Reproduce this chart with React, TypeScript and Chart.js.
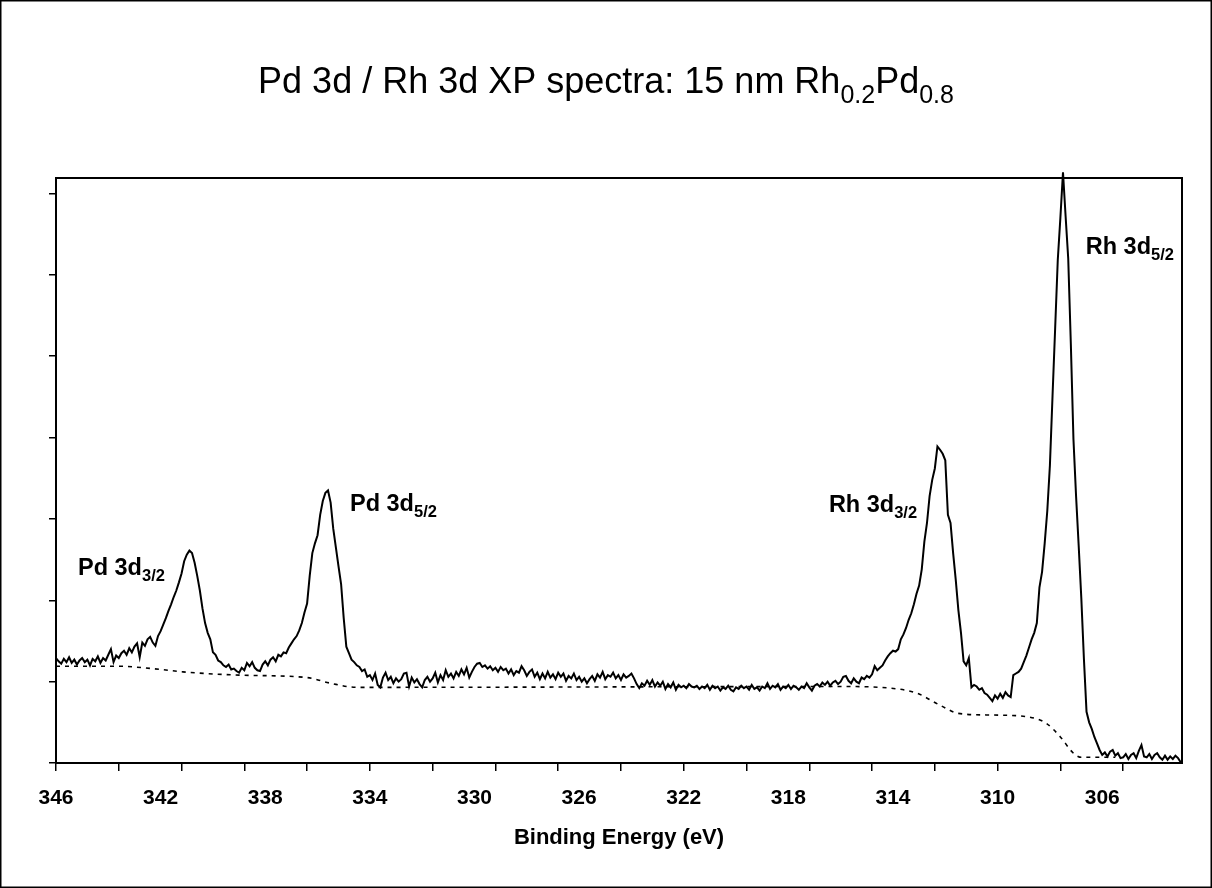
import { useEffect, useRef } from "react";
import { Chart, registerables } from "chart.js";

Chart.register(...registerables);

// Spectrum: binding energy from 346.0 eV down to 303.0 eV, one reading every 0.1 eV
const energyStart = 346.0;
const energyStep = 0.1;
const intensity = [
  1.29, 1.25, 1.22, 1.28, 1.24, 1.30, 1.23, 1.27, 1.21, 1.26,
  1.29, 1.24, 1.27, 1.20, 1.28, 1.25, 1.31, 1.23, 1.29, 1.26,
  1.33, 1.40, 1.24, 1.32, 1.29, 1.35, 1.38, 1.33, 1.41, 1.36,
  1.43, 1.47, 1.30, 1.48, 1.44, 1.52, 1.55, 1.48, 1.44, 1.56,
  1.62, 1.70, 1.78, 1.87, 1.95, 2.04, 2.12, 2.22, 2.33, 2.48,
  2.56, 2.61, 2.58, 2.46, 2.30, 2.12, 1.90, 1.72, 1.60, 1.52,
  1.36, 1.33, 1.26, 1.24, 1.20, 1.18, 1.21, 1.15, 1.16, 1.13,
  1.11, 1.17, 1.14, 1.23, 1.19, 1.24, 1.17, 1.14, 1.13, 1.21,
  1.25, 1.20, 1.27, 1.30, 1.25, 1.33, 1.31, 1.36, 1.35, 1.42,
  1.47, 1.52, 1.56, 1.63, 1.72, 1.85, 1.96, 2.30, 2.58, 2.70,
  2.80, 3.05, 3.22, 3.32, 3.35, 3.20, 2.88, 2.65, 2.42, 2.20,
  1.78, 1.43, 1.35, 1.27, 1.24, 1.20, 1.18, 1.13, 1.15, 1.06,
  1.08, 1.02, 1.10, 0.96, 0.93, 1.05, 1.11, 1.02, 1.06, 0.98,
  1.04, 1.00, 1.03, 1.10, 1.11, 0.94, 1.05, 0.99, 1.03, 0.97,
  0.93, 1.02, 1.06, 1.00, 1.04, 1.11, 0.99, 1.08, 1.02, 1.14,
  1.06, 1.10, 1.04, 1.12, 1.07, 1.15, 1.09, 1.17, 1.05, 1.12,
  1.18, 1.22, 1.23, 1.18, 1.20, 1.16, 1.19, 1.14, 1.17, 1.12,
  1.18, 1.14, 1.16, 1.10, 1.15, 1.08, 1.13, 1.11, 1.19, 1.14,
  1.07, 1.12, 1.15, 1.06, 1.11, 1.03, 1.10, 1.04, 1.12, 1.05,
  1.09, 1.03, 1.11, 1.06, 1.10, 1.01, 1.07, 1.04, 1.10, 1.02,
  1.06, 1.00, 1.04, 0.98, 1.03, 1.07, 1.01, 1.09, 1.05, 1.12,
  1.03, 1.08, 1.06, 1.11, 1.04, 1.08, 1.02, 1.09, 1.05, 1.07,
  1.10, 1.04, 0.97, 0.92, 0.98, 0.95, 1.01, 0.96, 1.02, 0.94,
  0.99, 0.95, 1.00, 0.91, 0.97, 0.93, 0.99, 0.90, 0.96, 0.93,
  0.95, 0.92, 0.97, 0.94, 0.93, 0.95, 0.91, 0.94, 0.92, 0.96,
  0.90, 0.95, 0.92, 0.94, 0.89, 0.93, 0.91, 0.95, 0.90, 0.88,
  0.93, 0.91, 0.95, 0.92, 0.94, 0.90, 0.96, 0.91, 0.93, 0.89,
  0.94, 0.92, 0.98, 0.91, 0.95, 0.93, 0.97, 0.90, 0.94, 0.92,
  0.96, 0.91, 0.95, 0.93, 0.90, 0.94, 0.92, 0.98, 0.93, 0.89,
  0.95, 0.97, 0.94, 0.99, 0.96, 1.00, 0.95, 0.99, 1.01, 0.97,
  1.00, 1.06, 1.07, 1.01, 0.98, 1.04, 1.00, 0.98, 1.05, 1.03,
  1.07, 1.05, 1.09, 1.19, 1.14, 1.17, 1.20, 1.26, 1.31, 1.35,
  1.38, 1.37, 1.40, 1.52, 1.58, 1.66, 1.76, 1.84, 1.95, 2.08,
  2.18, 2.38, 2.72, 2.95, 3.28, 3.48, 3.62, 3.89, 3.85, 3.80,
  3.72, 3.05, 2.95, 2.58, 2.25, 1.88, 1.60, 1.25, 1.20, 1.29,
  0.93, 0.96, 0.94, 0.90, 0.92, 0.86, 0.84, 0.80, 0.76, 0.83,
  0.79, 0.85, 0.80, 0.87, 0.83, 0.81, 1.08, 1.10, 1.12, 1.16,
  1.24, 1.32, 1.42, 1.52, 1.60, 1.72, 2.16, 2.35, 2.70, 3.10,
  3.66, 4.51, 5.34, 6.18, 6.70, 7.26, 6.72, 6.20, 5.15, 3.98,
  3.28, 2.67, 2.03, 1.28, 0.63, 0.50, 0.42, 0.32, 0.24, 0.16,
  0.10, 0.13, 0.08, 0.14, 0.16, 0.09, 0.12, 0.06, 0.07, 0.11,
  0.05, 0.10, 0.12, 0.06, 0.15, 0.22, 0.08, 0.07, 0.11, 0.05,
  0.10, 0.12, 0.07, 0.04, 0.09, 0.04, 0.08, 0.05, 0.09, 0.06,
  0.01,
];

// Shirley-type background (dashed)
const bgEnergy = [346, 343.7, 342, 341.15, 339, 336.4, 335.5, 334.5, 333.7, 316, 314.1, 313.1, 312.2, 311.5, 310.3, 308.9, 308.15, 307.6, 307.1, 306.8, 305.5];
const bgIntensity = [1.19, 1.19, 1.15, 1.12, 1.08, 1.05, 0.98, 0.93, 0.93, 0.94, 0.92, 0.86, 0.71, 0.61, 0.59, 0.57, 0.49, 0.32, 0.12, 0.07, 0.07];

// Axes
const xMin = 302.95;
const xMax = 346;
const xTickMarks = [346, 343.6, 341.2, 338.8, 336.4, 334, 331.6, 329.2, 326.8, 324.4, 322, 319.6, 317.2, 314.8, 312.4, 310, 307.6, 305.2];
const xTickLabels = [346, 342, 338, 334, 330, 326, 322, 318, 314, 310, 306];
const yTickMarks = [0, 1, 2, 3, 4, 5, 6, 7];
const yMin = 0;
const yMax = 7.19;

// Texts
const xAxisTitle = "Binding Energy (eV)";
const titleParts = [
  { text: "Pd 3d / Rh 3d XP spectra: 15 nm Rh", sub: false },
  { text: "0.2", sub: true },
  { text: "Pd", sub: false },
  { text: "0.8", sub: true },
];
const peakNames = ["Pd 3d", "Pd 3d", "Rh 3d", "Rh 3d"];
const peakSubs = ["3/2", "5/2", "3/2", "5/2"];
const peakLabelEnergy = [345.16, 334.76, 316.45, 306.63];
const peakLabelLevel = [2.31, 3.1, 3.09, 6.25];

const FONT = '"Liberation Sans", Arial, Helvetica, sans-serif';

const overlayPlugin = {
  id: "overlay",
  afterDraw(chart: any) {
    const { ctx, chartArea: a, scales } = chart;
    ctx.save();
    ctx.strokeStyle = "#000";
    ctx.fillStyle = "#000";
    // plot frame
    ctx.lineWidth = 2;
    ctx.strokeRect(a.left, a.top, a.right - a.left, a.bottom - a.top);
    // outer chart border
    ctx.lineWidth = 1.5;
    ctx.strokeRect(0.75, 0.75, chart.width - 1.5, chart.height - 1.5);

    // title with subscripts
    const mainFont = `36px ${FONT}`;
    const subFont = `25px ${FONT}`;
    let total = 0;
    for (const p of titleParts) {
      ctx.font = p.sub ? subFont : mainFont;
      total += ctx.measureText(p.text).width;
    }
    let x = (chart.width - total) / 2;
    const baseY = 92.5;
    ctx.textBaseline = "alphabetic";
    ctx.textAlign = "left";
    for (const p of titleParts) {
      ctx.font = p.sub ? subFont : mainFont;
      ctx.fillText(p.text, x, p.sub ? baseY + 10 : baseY);
      x += ctx.measureText(p.text).width;
    }

    // peak labels
    const lblFont = `bold 23.5px ${FONT}`;
    const lblSubFont = `bold 16.5px ${FONT}`;
    for (let i = 0; i < peakNames.length; i++) {
      const px = scales.x.getPixelForValue(peakLabelEnergy[i]);
      const py = scales.y.getPixelForValue(peakLabelLevel[i]);
      ctx.font = lblFont;
      ctx.fillText(peakNames[i], px, py);
      const w = ctx.measureText(peakNames[i]).width;
      ctx.font = lblSubFont;
      ctx.fillText(peakSubs[i], px + w, py + 6);
    }
    ctx.restore();
  },
};

export default function App() {
  const ref = useRef<HTMLCanvasElement>(null);

  useEffect(() => {
    document.body.style.margin = "0";
    const canvas = ref.current;
    if (!canvas) return;

    const spectrum = intensity.map((v, i) => ({
      x: +(energyStart - i * energyStep).toFixed(2),
      y: v,
    }));
    const background = bgEnergy.map((e, i) => ({ x: e, y: bgIntensity[i] }));

    const chart = new Chart(canvas, {
      type: "line",
      data: {
        datasets: [
          {
            label: "background",
            data: background,
            borderColor: "#000",
            borderWidth: 1.6,
            borderDash: [4, 5],
            pointRadius: 0,
            cubicInterpolationMode: "monotone",
            fill: false,
          },
          {
            label: "spectrum",
            data: spectrum,
            borderColor: "#000",
            borderWidth: 2,
            pointRadius: 0,
            tension: 0,
            fill: false,
            clip: false as any,
          },
        ],
      },
      options: {
        animation: false,
        responsive: false,
        devicePixelRatio: 1,
        layout: { padding: { top: 178, right: 30, bottom: 0, left: 0 } },
        plugins: {
          legend: { display: false },
          title: { display: false },
          tooltip: { enabled: false },
        },
        scales: {
          x: {
            type: "linear",
            position: "bottom",
            reverse: true,
            min: xMin,
            max: xMax,
            weight: 0,
            afterBuildTicks: (s: any) => {
              s.ticks = xTickMarks.map((v) => ({ value: v }));
            },
            ticks: { display: false },
            grid: {
              display: true,
              drawOnChartArea: false,
              drawTicks: true,
              tickLength: 8,
              color: "#000",
              lineWidth: 1.5,
            },
            border: { display: true, color: "#000", width: 2 },
            afterFit: (s: any) => {
              s.height = 10;
            },
          },
          x2: {
            type: "linear",
            position: "bottom",
            reverse: true,
            min: xMin,
            max: xMax,
            weight: 1,
            afterBuildTicks: (s: any) => {
              s.ticks = xTickLabels.map((v) => ({ value: v }));
            },
            ticks: {
              display: true,
              autoSkip: false,
              maxRotation: 0,
              padding: 13,
              color: "#000",
              font: { family: FONT, size: 21, weight: "bold" },
              callback: (v: any) => String(v),
            },
            grid: { display: false, drawTicks: false },
            border: { display: false },
            title: {
              display: true,
              text: xAxisTitle,
              color: "#000",
              font: { family: FONT, size: 22, weight: "bold" },
              padding: 37,
            },
            afterFit: (s: any) => {
              s.height = 115;
            },
          },
          y: {
            type: "linear",
            position: "left",
            min: yMin,
            max: yMax,
            afterBuildTicks: (s: any) => {
              s.ticks = yTickMarks.map((v) => ({ value: v }));
            },
            ticks: { display: false },
            grid: {
              display: true,
              drawOnChartArea: false,
              drawTicks: true,
              tickLength: 7,
              color: "#000",
              lineWidth: 1.5,
            },
            border: { display: true, color: "#000", width: 2 },
            afterFit: (s: any) => {
              s.width = 56;
            },
          },
        },
      } as any,
      plugins: [overlayPlugin],
    });

    return () => {
      chart.destroy();
    };
  }, []);

  return (
    <div style={{ width: 1212, height: 888, background: "#fff" }}>
      <canvas ref={ref} width={1212} height={888} style={{ display: "block" }} />
    </div>
  );
}
